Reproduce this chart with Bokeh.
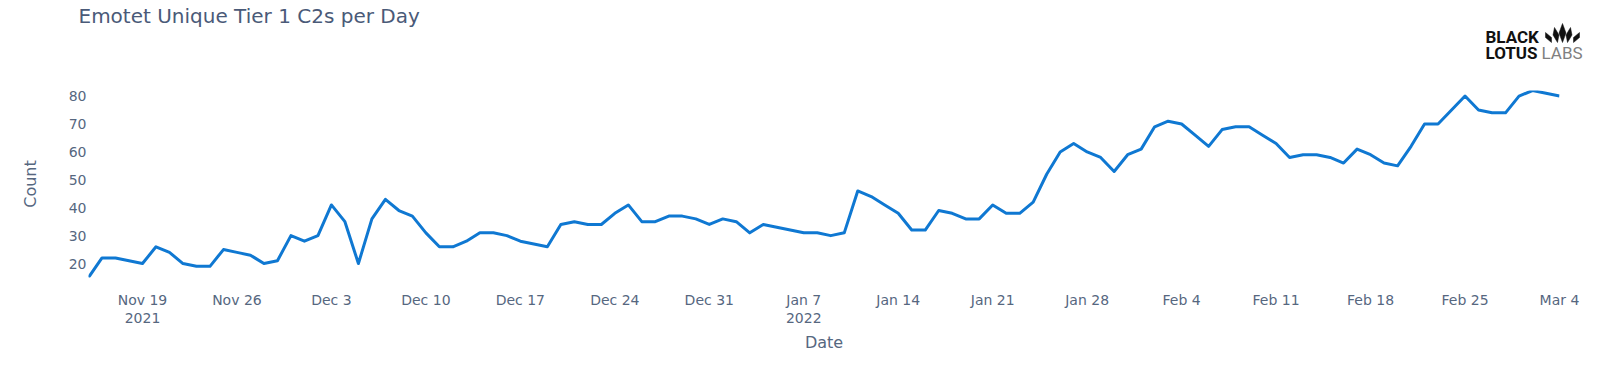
import pandas as pd
from bokeh.plotting import figure
from bokeh.layouts import column
from bokeh.models import Range1d, FixedTicker
from bokeh.core.properties import value
from bokeh.embed import file_html
from bokeh.resources import INLINE

# ---------------- data ----------------
start_date = "2021-11-15"
counts = [
    # Nov 15 - Nov 30
    15, 22, 22, 21, 20, 26, 24, 20, 19, 19, 25, 24, 23, 20, 21, 30,
    # Dec 1 - Dec 31
    28, 30, 41, 35, 20, 36, 43, 39, 37, 31, 26, 26, 28, 31, 31, 30, 28, 27, 26, 34,
    35, 34, 34, 38, 41, 35, 35, 37, 37, 36, 34,
    # Jan 1 - Jan 31
    36, 35, 31, 34, 33, 32, 31, 31, 30, 31, 46, 44, 41, 38, 32, 32, 39, 38, 36, 36,
    41, 38, 38, 42, 52, 60, 63, 60, 58, 53, 59,
    # Feb 1 - Feb 28
    61, 69, 71, 70, 66, 62, 68, 69, 69, 66, 63, 58, 59, 59, 58, 56, 61, 59, 56, 55,
    62, 70, 70, 75, 80, 75, 74, 74,
    # Mar 1 - Mar 4
    80, 82, 81, 80,
]
tick_dates = ["2021-11-19", "2021-11-26", "2021-12-03", "2021-12-10", "2021-12-17",
              "2021-12-24", "2021-12-31", "2022-01-07", "2022-01-14", "2022-01-21",
              "2022-01-28", "2022-02-04", "2022-02-11", "2022-02-18", "2022-02-25",
              "2022-03-04"]
tick_labels = ["Nov 19\n2021", "Nov 26", "Dec 3", "Dec 10", "Dec 17", "Dec 24", "Dec 31",
               "Jan 7\n2022", "Jan 14", "Jan 21", "Jan 28", "Feb 4", "Feb 11", "Feb 18",
               "Feb 25", "Mar 4"]
y_ticks = [20, 30, 40, 50, 60, 70, 80]

title_text = "Emotet Unique Tier 1 C2s per Day"
x_title = "Date"
y_title = "Count"

dates = pd.date_range(start_date, periods=len(counts), freq="D")

# ---------------- layout ----------------
W, H = 1592, 361
HH = 62                      # header strip (title + logo)
BL, BR, BT, BB = 88, 33, 90, 84
FONT = "DejaVu Sans"
TICK_COLOR = "#56677f"
TITLE_COLOR = "#4a5a78"
LINE_COLOR = "#0f78d2"

# ---- header: page pixel coordinates, y measured from top ----
hdr = figure(width=W, height=HH, output_backend="svg", toolbar_location=None,
             x_range=Range1d(0, W), y_range=Range1d(HH, 0),
             x_axis_location=None, y_axis_location=None,
             min_border=0, min_border_left=0, min_border_right=0,
             min_border_top=0, min_border_bottom=0)
hdr.frame_align = False
hdr.outline_line_color = None
hdr.xgrid.grid_line_color = None
hdr.ygrid.grid_line_color = None
hdr.background_fill_color = "white"
hdr.border_fill_color = "white"

hdr.text(x=[78], y=[15], text=[title_text], text_font=value(FONT),
         text_font_size="20px", text_color=TITLE_COLOR,
         text_baseline="middle", text_align="left")
hdr.text(x=[1485, 1485], y=[36, 52], text=["BLACK", "LOTUS"],
         text_font=value("Roboto"), text_font_size="17px",
         text_font_style="bold", text_color="#111111",
         text_baseline="middle", text_align="left")
hdr.text(x=[1541], y=[52], text=["LABS"], text_font=value("Roboto"),
         text_font_size="17px", text_color="#808080",
         text_baseline="middle", text_align="left")

def petal(cx, base, w, h, dx):
    xs = [cx, cx - w / 2 + dx / 2, cx + dx, cx + w / 2 + dx / 2]
    ys = [base, base - h / 2, base - h, base - h / 2]
    return xs, ys

cx0 = 1562
pxs, pys = [], []
for (ox, w, h, dx) in [(0, 7, 19, 0), (-5, 6, 15, -3), (5, 6, 15, 3),
                       (-11, 6, 10, -6), (11, 6, 10, 6)]:
    xs, ys = petal(cx0 + ox, 42, w, h, dx)
    pxs.append(xs)
    pys.append(ys)
hdr.patches(pxs, pys, fill_color="#111111", line_color="#111111", line_width=0.5)

# ---- main chart ----
p = figure(width=W, height=H - HH, x_axis_type="datetime",
           output_backend="svg", toolbar_location=None,
           min_border_left=BL, min_border_right=BR,
           min_border_top=BT - HH, min_border_bottom=BB,
           x_range=Range1d(dates[0], dates[-1]),
           y_range=Range1d(min(counts), max(counts)))
p.frame_align = False

p.line(dates, counts, line_color=LINE_COLOR, line_width=3, line_join="round")

p.outline_line_color = None
p.xgrid.grid_line_color = None
p.ygrid.grid_line_color = None
p.background_fill_color = "white"
p.border_fill_color = "white"

tick_ms = [pd.Timestamp(d).value / 1e6 for d in tick_dates]
xa = p.xaxis[0]
xa.ticker = FixedTicker(ticks=tick_ms)
xa.major_label_overrides = {t: lab for t, lab in zip(tick_ms, tick_labels)}
xa.axis_line_color = None
xa.major_tick_line_color = None
xa.minor_tick_line_color = None
xa.major_tick_out = 0
xa.major_tick_in = 0
xa.minor_tick_out = 0
xa.major_label_standoff = 14
xa.major_label_text_font = FONT
xa.major_label_text_font_size = "14px"
xa.major_label_text_color = TICK_COLOR
xa.major_label_text_line_height = 1.17
xa.axis_label = x_title
xa.axis_label_text_font = FONT
xa.axis_label_text_font_size = "16px"
xa.axis_label_text_font_style = "normal"
xa.axis_label_text_color = TICK_COLOR
xa.axis_label_standoff = 4

ya = p.yaxis[0]
ya.ticker = FixedTicker(ticks=y_ticks)
ya.axis_line_color = None
ya.major_tick_line_color = None
ya.minor_tick_line_color = None
ya.major_tick_out = 0
ya.major_tick_in = 0
ya.minor_tick_out = 0
ya.major_label_standoff = 2
ya.major_label_text_font = FONT
ya.major_label_text_font_size = "14px"
ya.major_label_text_color = TICK_COLOR
ya.axis_label = y_title
ya.axis_label_text_font = FONT
ya.axis_label_text_font_size = "16px"
ya.axis_label_text_font_style = "normal"
ya.axis_label_text_color = TICK_COLOR
ya.axis_label_standoff = 26

layout = column(hdr, p, spacing=0)
open("out.html", "w").write(file_html(layout, INLINE))
